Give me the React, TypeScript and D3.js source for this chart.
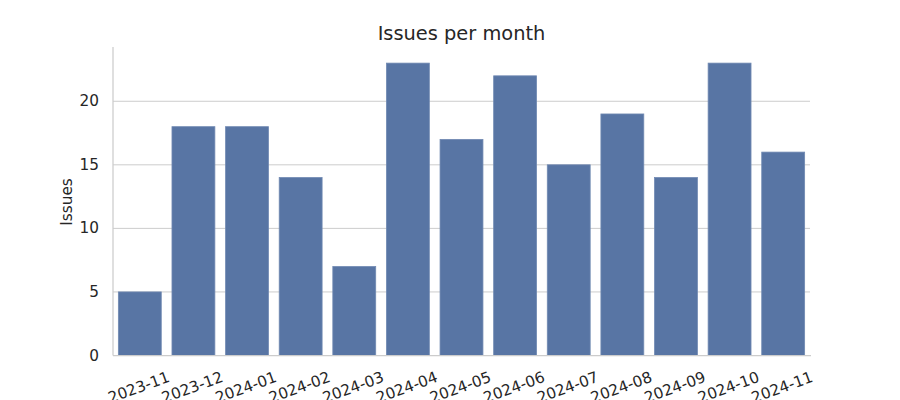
import React from "react";
import * as d3 from "d3";

const months = ["2023-11","2023-12","2024-01","2024-02","2024-03","2024-04","2024-05","2024-06","2024-07","2024-08","2024-09","2024-10","2024-11"];
const issues = [5, 18, 18, 14, 7, 23, 17, 22, 15, 19, 14, 23, 16];
const yTicks = [0, 5, 10, 15, 20];

const W = 900, H = 400;
const M = { left: 113, right: 810, top: 48.5, bottom: 355.5 };
const FONT = "DejaVu Sans, sans-serif";
const TXT = "#262626";
const GRID = "#cccccc";

export default function App() {
  const x = d3.scaleBand<string>().domain(months).range([M.left, M.right]).paddingInner(0.2).paddingOuter(0.1);
  const yMax = d3.max(issues)! * 1.05;
  const y = d3.scaleLinear().domain([0, yMax]).range([M.bottom, M.top]);
  return (
    <svg width={W} height={H} style={{ position: "absolute", left: 0, top: 0, display: "block", background: "#fff" }} fontFamily={FONT}>
      {yTicks.map(t => (
        <g key={t}>
          {t > 0 && <line x1={M.left} x2={M.right} y1={y(t)} y2={y(t)} stroke={GRID} strokeWidth={1} />}
          <text x={M.left - 14} y={y(t)} textAnchor="end" dominantBaseline="central" fontSize={15.3} fill={TXT}>{t}</text>
        </g>
      ))}
      {months.map((m, i) => (
        <rect key={m} x={x(m)!} y={y(issues[i])} width={x.bandwidth()} height={y(0) - y(issues[i])}
          fill="#5875a4" stroke="#7089b2" strokeWidth={0.8} />
      ))}
      <line x1={M.left} x2={M.left} y1={M.top - 1.5} y2={M.bottom} stroke={GRID} strokeWidth={1.25} />
      <line x1={M.left} x2={M.right + 1} y1={M.bottom} y2={M.bottom} stroke={GRID} strokeWidth={1.25} />
      {months.map(m => {
        const cx = x(m)! + x.bandwidth() / 2 - 1;
        const cy = M.bottom + 32;
        return (
          <text key={m} x={cx} y={cy} textAnchor="middle" dominantBaseline="central" fontSize={15.3} fill={TXT}
            transform={`rotate(-20 ${cx} ${cy})`}>{m}</text>
        );
      })}
      <text transform={`translate(67 ${(M.top + M.bottom) / 2}) rotate(-90)`} textAnchor="middle" dominantBaseline="central" fontSize={15.3} fill={TXT}>Issues</text>
      <text x={(M.left + M.right) / 2} y={40} textAnchor="middle" fontSize={19.4} fill={TXT}>Issues per month</text>
    </svg>
  );
}
